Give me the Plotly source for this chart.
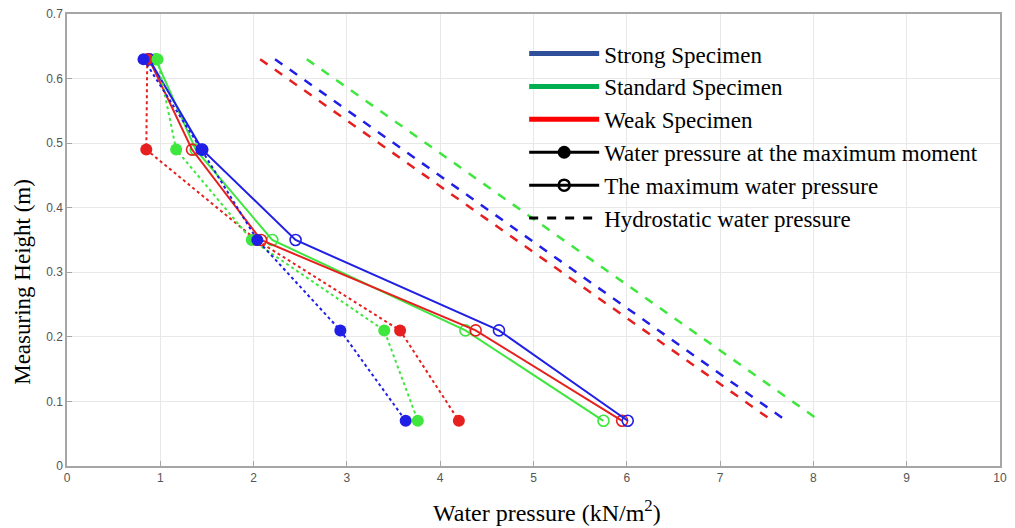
import plotly.graph_objects as go

heights = [0.63, 0.49, 0.35, 0.21, 0.07]

# Water pressure at the maximum moment (filled markers, dotted lines)
moment_strong = [0.82, 1.44, 2.04, 2.93, 3.63]
moment_standard = [0.97, 1.17, 1.98, 3.40, 3.76]
moment_weak = [0.86, 0.85, 2.03, 3.57, 4.20]

# Maximum water pressure (open markers, solid lines)
max_strong = [0.88, 1.45, 2.45, 4.63, 6.01]
max_standard = [0.95, 1.38, 2.20, 4.27, 5.75]
max_weak = [0.88, 1.34, 2.08, 4.38, 5.95]

# Hydrostatic water pressure (dashed lines, endpoints)
hydro_heights = [0.63, 0.07]
hydro_strong = [2.23, 7.71]
hydro_standard = [2.57, 8.07]
hydro_weak = [2.07, 7.56]

x_ticks = list(range(0, 11))
y_ticks = [0, 0.1, 0.2, 0.3, 0.4, 0.5, 0.6, 0.7]
y_tick_labels = ["0", "0.1", "0.2", "0.3", "0.4", "0.5", "0.6", "0.7"]

plot_colors = {"strong": "#1f1fe6", "standard": "#3ee63e", "weak": "#e61f1f"}
legend_colors = {"strong": "#2f4f9a", "standard": "#00b050", "weak": "#ff0000"}

fig = go.Figure()

# hydrostatic
for key, xs in [("standard", hydro_standard), ("strong", hydro_strong), ("weak", hydro_weak)]:
    fig.add_trace(go.Scatter(x=xs, y=hydro_heights, mode="lines",
                             line=dict(color=plot_colors[key], width=2.5, dash="dash"),
                             showlegend=False, hoverinfo="skip"))

# maximum water pressure
for key, xs in [("standard", max_standard), ("weak", max_weak), ("strong", max_strong)]:
    fig.add_trace(go.Scatter(x=xs, y=heights, mode="lines+markers",
                             line=dict(color=plot_colors[key], width=2),
                             marker=dict(symbol="circle-open", size=11, color=plot_colors[key],
                                         line=dict(width=1.6, color=plot_colors[key])),
                             showlegend=False))

# max moment
for key, xs in [("weak", moment_weak), ("standard", moment_standard), ("strong", moment_strong)]:
    fig.add_trace(go.Scatter(x=xs, y=heights, mode="lines+markers",
                             line=dict(color=plot_colors[key], width=2, dash="dot"),
                             marker=dict(symbol="circle", size=12, color=plot_colors[key]),
                             showlegend=False))

# legend-only traces
for key, name in [("strong", "Strong Specimen"), ("standard", "Standard Specimen"), ("weak", "Weak Specimen")]:
    fig.add_trace(go.Scatter(x=[None], y=[None], mode="lines", name=name,
                             line=dict(color=legend_colors[key], width=5)))
fig.add_trace(go.Scatter(x=[None], y=[None], mode="lines+markers", name="Water pressure at the maximum moment",
                         line=dict(color="black", width=3),
                         marker=dict(symbol="circle", size=13, color="black")))
fig.add_trace(go.Scatter(x=[None], y=[None], mode="lines+markers", name="The maximum water pressure",
                         line=dict(color="black", width=3),
                         marker=dict(symbol="circle-open", size=11, color="black", line=dict(width=2.5, color="black"))))
fig.add_trace(go.Scatter(x=[None], y=[None], mode="lines", name="Hydrostatic water pressure",
                         line=dict(color="black", width=3, dash="dash")))

tick_font = dict(family="Liberation Sans Narrow, Liberation Sans, Arial", size=12, color="#555555")
serif = "Liberation Serif, Times New Roman, serif"

fig.update_layout(
    width=1015, height=528,
    margin=dict(l=59, r=23, t=6, b=70, autoexpand=False),
    paper_bgcolor="white", plot_bgcolor="white",
    legend=dict(x=0.49, y=0.96, xanchor="left", yanchor="top",
                font=dict(family=serif, size=23, color="black"),
                bgcolor="rgba(255,255,255,0)", itemwidth=70, tracegroupgap=0),
    xaxis=dict(range=[0, 10], tickvals=x_ticks, ticktext=[str(v) for v in x_ticks],
               showgrid=True, gridcolor="#e8e8e8", gridwidth=1,
               showline=True, linecolor="#a6a6a6", linewidth=1.5, mirror=True,
               ticks="inside", ticklen=5, tickcolor="#a6a6a6", ticklabeloverflow="allow",
               tickfont=tick_font, zeroline=False, automargin=False),
    yaxis=dict(range=[0, 0.7], tickvals=y_ticks, ticktext=y_tick_labels,
               showgrid=True, gridcolor="#e8e8e8", gridwidth=1,
               showline=True, linecolor="#a6a6a6", linewidth=1.5, mirror=True,
               ticks="inside", ticklen=5, tickcolor="#a6a6a6", ticklabeloverflow="allow",
               tickfont=tick_font, zeroline=False, automargin=False),
    annotations=[
        dict(text="Measuring Height (m)", textangle=-90, xref="paper", yref="paper",
             x=-0.048, y=0.408, xanchor="center", yanchor="middle", showarrow=False,
             font=dict(family=serif, size=23, color="black")),
        dict(text="Water pressure (kN/m<sup>2</sup>)", xref="paper", yref="paper",
             x=0.514, y=-0.10, xanchor="center", yanchor="middle", showarrow=False,
             font=dict(family=serif, size=24, color="black")),
    ],
)

fig.write_html("out.html")
